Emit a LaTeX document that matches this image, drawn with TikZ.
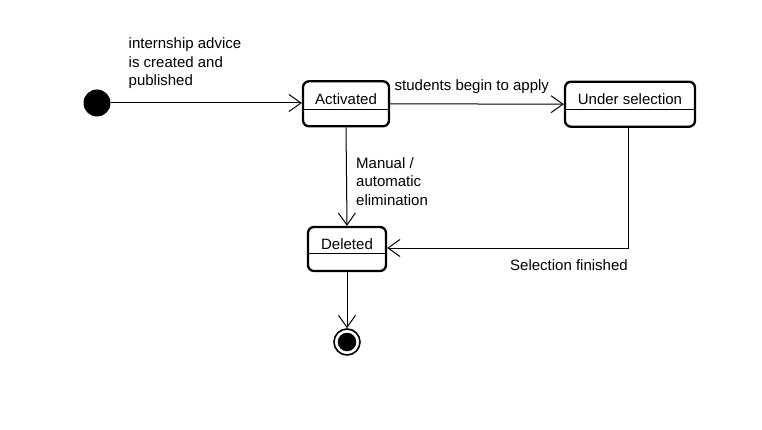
\documentclass[tikz,border=0pt]{standalone}
\usepackage{fontspec}
\setmainfont{Liberation Sans}
\usetikzlibrary{arrows.meta}
\begin{document}
\begin{tikzpicture}[x=1pt,y=-1pt,
  font=\fontsize{15}{18.6}\selectfont,
  state/.style={draw, line width=2.3pt, rounded corners=6pt, minimum width=#1, minimum height=45pt, inner sep=0pt},
  divider/.style={line width=1pt},
  edge/.style={line width=1pt, -{Straight Barb[length=12pt,width=17pt,line width=1pt]}},
  lbl/.style={inner sep=0pt, align=left}]
\useasboundingbox[fill=white] (0,0) rectangle (762,430);

% initial
\node[circle, fill=black, minimum size=27pt, inner sep=0pt] (init) at (97,103) {};

% states
\node[state=86pt] (act) at (346,103.8) {};
\draw[divider] ([yshift=-29pt]act.north west) -- ([yshift=-29pt]act.north east);
\node[inner sep=0pt] (actt) at ([yshift=-18.8pt]act.north) {Activated};

\node[state=130pt] (us) at (630,104.2) {};
\draw[divider] ([yshift=-29pt]us.north west) -- ([yshift=-29pt]us.north east);
\node[inner sep=0pt] (ust) at ([yshift=-18.8pt]us.north) {Under selection};

\node[state=78pt, minimum height=44pt] (del) at (347,249) {};
\draw[divider] ([yshift=-28pt]del.north west) -- ([yshift=-28pt]del.north east);
\node[inner sep=0pt] (delt) at ([yshift=-17.8pt]del.north) {Deleted};

% final
\node[circle, draw=black, line width=1.6pt, minimum size=26pt, inner sep=0pt] (fin) at (347,342) {};
\node[circle, fill=black, minimum size=18.5pt, inner sep=0pt] (finc) at (fin.center) {};

% edges
\draw[edge] (init.east) -- (act.west |- init);
\draw[edge] (act.east) -- (us.west);
\draw[edge] (act.south) -- (del.north);
\draw[edge] ([xshift=-2pt]us.south) |- ([yshift=1pt]del.east);
\draw[edge] (del.south) -- (fin.north);

% labels
\node[lbl, anchor=west] (l1) at (128.5,63.5) {internship advice\\is created and\\published};
\node[lbl, anchor=west] (l2) at (394.5,86.5) {students begin to apply};
\node[lbl, anchor=west] (l3) at (356,181.5) {Manual /\\automatic\\elimination};
\node[lbl, anchor=west] (l4) at (510,265) {Selection finished};
\end{tikzpicture}
\end{document}
